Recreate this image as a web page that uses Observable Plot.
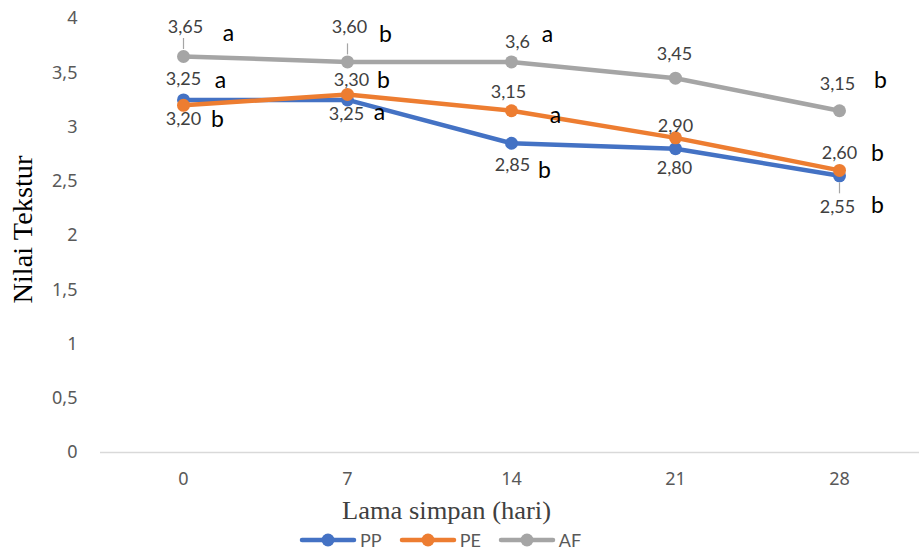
<!DOCTYPE html>
<html>
<head>
<meta charset="utf-8">
<script src="https://cdn.jsdelivr.net/npm/d3@7"></script>
<script src="https://cdn.jsdelivr.net/npm/@observablehq/plot@0.6"></script>
<style>
  html, body { margin: 0; padding: 0; background: #fff; }
  #chart { width: 919px; }
  #legend { display: flex; justify-content: flex-start; align-items: center; height: 23px; font-family: Lato, "Open Sans", sans-serif; font-size: 18px; color: #595959; padding-left: 299px; }
  .item { display: flex; align-items: center; margin-right: 17px; }
  .item span { margin-left: 3px; }
  .serif-x, .serif-x text, .serif-y, .serif-y text { font-family: "Liberation Serif", Tinos, "DejaVu Serif", serif !important; }
</style>
</head>
<body>
<div id="chart"></div>
<div id="legend"></div>
<script>
// ---- data ----
const days = ["0", "7", "14", "21", "28"];
const seriesNames = ["PP", "PE", "AF"];
const PP = [3.25, 3.25, 2.85, 2.80, 2.55];
const PE = [3.20, 3.30, 3.15, 2.90, 2.60];
const AF = [3.65, 3.60, 3.60, 3.45, 3.15];
const ppLabels = ["3,25", "3,25", "2,85", "2,80", "2,55"];
const peLabels = ["3,20", "3,30", "3,15", "2,90", "2,60"];
const afLabels = ["3,65", "3,60", "3,6", "3,45", "3,15"];
const ppLetters = ["a", "a", "b", "", "b"];
const peLetters = ["b", "b", "a", "", "b"];
const afLetters = ["a", "b", "a", "", "b"];
const yTicks = [0, 0.5, 1, 1.5, 2, 2.5, 3, 3.5, 4];
const yTitle = "Nilai Tekstur";
const xTitle = "Lama simpan (hari)";

// ---- layout (label offsets in px) ----
const colors = {PP: "#4472C4", PE: "#ED7D31", AF: "#A5A5A5"};
const labelOffsets = {
  PP: [[0, -21], [-1, 14], [1, 22], [-1, 20], [-2, 31]],
  PE: [[0, 14], [4, -14], [-3, -18], [0, -12], [0, -17]],
  AF: [[2, -29], [2, -35], [6, -20], [-1, -24], [-2, -26]]
};
const letterOffsets = {
  PP: [[37, -19], [32, 13], [33, 27], [0, 0], [38, 30]],
  PE: [[34, 14], [36, -14], [44, 5], [0, 0], [38, -17]],
  AF: [[45, -23], [38, -27], [36, -27], [0, 0], [41, -30]]
};
// leader lines: [series, index, direction]
const leaders = [["AF", 0, "up"], ["AF", 1, "up"], ["PP", 4, "down"]];

const values = {PP, PE, AF};
const labels = {PP: ppLabels, PE: peLabels, AF: afLabels};
const letters = {PP: ppLetters, PE: peLetters, AF: afLetters};

const rows = [];
for (const s of seriesNames) {
  days.forEach((d, i) => rows.push({series: s, day: d, value: values[s][i], label: labels[s][i], letter: letters[s][i], i}));
}

const marks = [
  Plot.ruleY([0], {stroke: "#d9d9d9", strokeWidth: 1.5, insetLeft: 1}),
  Plot.axisY({ticks: yTicks, tickSize: 0, tickPadding: 22, tickFormat: d => String(d).replace(".", ","), fontSize: 18, color: "#595959", label: null}),
  Plot.axisX({tickSize: 0, tickPadding: 20, fontSize: 18, color: "#595959", label: null}),
  Plot.text([yTitle], {frameAnchor: "left", textAnchor: "middle", lineAnchor: "middle", rotate: -90, dx: -76, dy: -6, fontSize: 28, fill: "#000", className: "serif-y"}),
  Plot.text([xTitle], {frameAnchor: "bottom", textAnchor: "middle", lineAnchor: "middle", dx: -63, dy: 58, fontSize: 25, fill: "#404040", className: "serif-x"})
];

for (const s of seriesNames) {
  const data = rows.filter(r => r.series === s);
  marks.push(Plot.line(data, {x: "day", y: "value", stroke: colors[s], strokeWidth: 4.5}));
  marks.push(Plot.dot(data, {x: "day", y: "value", fill: colors[s], r: 6.5}));
}

for (const [s, i, dir] of leaders) {
  const r = rows.find(d => d.series === s && d.i === i);
  const up = dir === "up";
  marks.push(Plot.ruleX([r], {x: "day", y1: "value", y2: "value", stroke: "#A5A5A5", strokeWidth: 1.2,
    insetTop: up ? -18 : 7, insetBottom: up ? 7 : -18}));
}

for (const r of rows) {
  const [dx, dy] = labelOffsets[r.series][r.i];
  marks.push(Plot.text([r], {x: "day", y: "value", text: "label", dx, dy, fill: "#404040", fontSize: 18, fontFamily: "Lato"}));
  if (r.letter) {
    const [lx, ly] = letterOffsets[r.series][r.i];
    marks.push(Plot.text([r], {x: "day", y: "value", text: "letter", dx: lx, dy: ly, fill: "#000", fontSize: 23, fontFamily: "Lato"}));
  }
}

const chart = Plot.plot({
  width: 919,
  height: 528,
  marginTop: 18,
  marginBottom: 76,
  marginLeft: 99,
  marginRight: 0,
  style: {background: "#fff"},
  x: {type: "point", domain: days, range: [181, 840], padding: 0},
  y: {domain: [0, 4]},
  marks
});
// the reference's axis titles are drawn stretched; match their lengths
chart.querySelectorAll(".serif-y text").forEach(t => { t.setAttribute("textLength", 148); t.setAttribute("lengthAdjust", "spacingAndGlyphs"); });
chart.querySelectorAll(".serif-x text").forEach(t => { t.setAttribute("textLength", 209); t.setAttribute("lengthAdjust", "spacingAndGlyphs"); });
document.getElementById("chart").appendChild(chart);

// legend
const legend = document.getElementById("legend");
for (const s of seriesNames) {
  const item = document.createElement("div");
  item.className = "item";
  item.innerHTML = `<svg width="58" height="16"><line x1="3" y1="8" x2="55" y2="8" stroke="${colors[s]}" stroke-width="4.5" stroke-linecap="round"/><circle cx="29" cy="8" r="6.5" fill="${colors[s]}"/></svg><span>${s}</span>`;
  legend.appendChild(item);
}
</script>
</body>
</html>
